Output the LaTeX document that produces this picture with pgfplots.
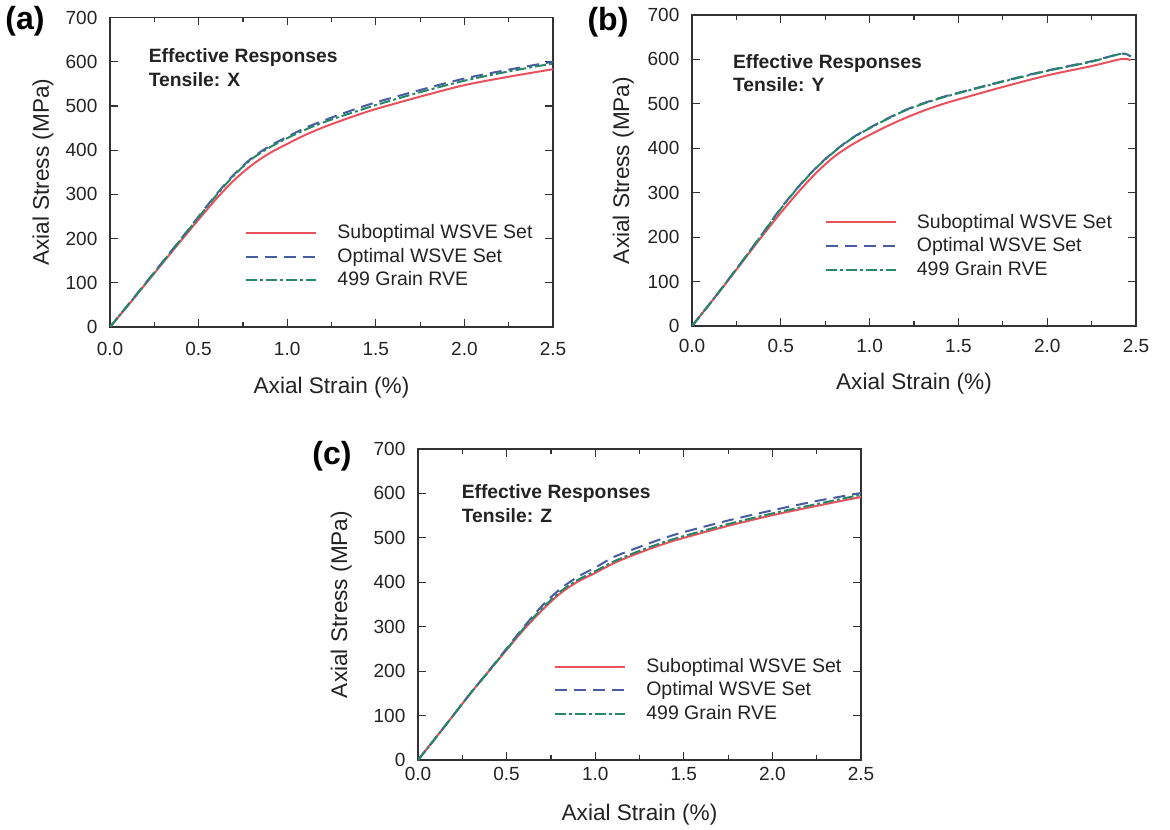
\documentclass[border=0pt]{standalone}
\usepackage{pgfplots}
\usepackage{pgfplotstable}
\pgfplotsset{compat=1.18}
\usepackage{fontspec}
\setmainfont{Liberation Sans}

\definecolor{subred}{RGB}{232,82,92}
\definecolor{optblue}{RGB}{72,92,160}
\definecolor{rvegreen}{RGB}{40,135,105}
\definecolor{axgray}{RGB}{50,50,50}
\definecolor{txt}{RGB}{35,35,35}

% Stress-strain responses: strain (%), stress (MPa)
\pgfplotstableread{
s    sub opt rve
0    0   0   0
0.1  48  49  49
0.2  97  99  98
0.3  146 149 148
0.4  195 199 198
0.5  243 250 248
0.6  290 300 298
0.7  332 345 343
0.8  366 382 380
0.9  393 409 406
1.0  414 430 427
1.1  434 450 446
1.2  451 466 462
1.3  466 481 476
1.4  480 495 489
1.5  493 508 502
1.75 521 536 531
2.0  547 562 557
2.25 566 582 578
2.5  583 600 596
}\tensileX

\pgfplotstableread{
s    sub opt rve
0    0   0   0
0.1  50  50  50
0.2  101 102 102
0.3  153 155 155
0.4  205 210 209
0.5  255 265 264
0.6  302 314 313
0.7  345 357 356
0.8  381 393 392
0.9  408 423 422
1.0  430 446 445
1.1  450 467 466
1.2  468 486 485
1.3  484 501 500
1.4  498 514 513
1.5  510 525 524
1.75 538 551 550
2.0  564 575 574
2.25 585 596 595
2.42 601 613 613
2.47 598 606 607
}\tensileY

\pgfplotstableread{
s    sub opt rve
0    0   0   0
0.1  50  50  50
0.2  101 101 101
0.3  152 152 152
0.4  200 201 200
0.5  248 251 249
0.6  295 301 298
0.7  337 347 341
0.8  374 384 378
0.9  401 412 405
1.0  421 433 425
1.1  442 456 446
1.2  459 472 463
1.3  474 487 478
1.4  488 501 492
1.5  500 513 504
1.75 527 539 531
2.0  551 562 555
2.25 572 583 576
2.5  592 601 597
}\tensileZ

\tikzset{
  note/.style={anchor=base west, font=\bfseries\fontsize{9.65}{11}\selectfont, text=txt},
  panelletter/.style={font=\bfseries\fontsize{16}{18}\selectfont, text=black},
}

\pgfplotsset{
  panel/.style={
    scale only axis,
    anchor=south west,
    xmin=0, xmax=2.5, ymin=0, ymax=700,
    xtick={0,0.5,1,1.5,2,2.5},
    minor xtick={0.25,0.75,1.25,1.75,2.25},
    ytick={0,100,200,300,400,500,600,700},
    tick align=inside,
    major tick length=4pt, minor tick length=2.5pt,
    axis line style={line width=0.65pt, axgray},
    every tick/.style={line width=0.6pt, axgray},
    /pgf/number format/assume math mode=true,
    xticklabel style={/pgf/number format/fixed, /pgf/number format/fixed zerofill, /pgf/number format/precision=1},
    tick label style={font=\fontsize{9.5}{10}\selectfont, text=txt},
    yticklabel style={xshift=-2.8pt},
    label style={font=\fontsize{11.3}{12}\selectfont, text=txt},
    xlabel={Axial Strain (\%)},
    ylabel={Axial Stress (MPa)},
    legend cell align=left,
    legend image code/.code={\draw[#1] (0pt,0pt) -- (35pt,0pt);},
    legend style={draw=none, fill=none, inner sep=0pt, anchor=west,
      row sep=2.2pt, column sep=9.5pt,
      font=\fontsize{9.75}{11}\selectfont, text=txt,
      nodes={inner sep=0.5pt}},
  },
  sub/.style={subred, line width=1pt, smooth},
  opt/.style={optblue, line width=1pt, smooth, dash pattern=on 6pt off 3.5pt},
  rve/.style={rvegreen, line width=1pt, smooth, dash pattern=on 5.5pt off 1.5pt on 1.5pt off 1.5pt},
}

\begin{document}
\begin{tikzpicture}
\useasboundingbox (0,0) rectangle (585pt,414.5pt);

% (a) loading along X
\begin{axis}[panel, at={(55pt,251pt)}, width=221.5pt, height=154.75pt,
  xticklabel style={yshift=-4pt},
  xlabel style={at={(rel axis cs:0.5,-0.195)}, anchor=center},
  ylabel style={at={(rel axis cs:-0.151,0.5)}, anchor=center},
  legend style={at={(axis cs:0.762,159)}}]
  \addplot[sub] table[x=s, y=sub] {\tensileX};
  \addplot[opt] table[x=s, y=opt] {\tensileX};
  \addplot[rve] table[x=s, y=rve] {\tensileX};
  \legend{Suboptimal WSVE Set, Optimal WSVE Set, 499 Grain RVE}
  \node[note] at (axis cs:0.179,599) {Effective Responses};
  \node[note] at (axis cs:0.179,543) {Tensile: X};
\end{axis}

% (b) loading along Y
\begin{axis}[panel, at={(346pt,251.5pt)}, width=222pt, height=155.5pt,
  xticklabel style={yshift=-3pt},
  xlabel style={at={(rel axis cs:0.5,-0.186)}, anchor=center},
  ylabel style={at={(rel axis cs:-0.155,0.5)}, anchor=center},
  legend style={at={(axis cs:0.746,180)}}]
  \addplot[sub] table[x=s, y=sub] {\tensileY};
  \addplot[opt] table[x=s, y=opt] {\tensileY};
  \addplot[rve] table[x=s, y=rve] {\tensileY};
  \legend{Suboptimal WSVE Set, Optimal WSVE Set, 499 Grain RVE}
  \node[note] at (axis cs:0.191,580) {Effective Responses};
  \node[note] at (axis cs:0.191,527) {Tensile: Y};
\end{axis}

% (c) loading along Z
\begin{axis}[panel, at={(209pt,34.5pt)}, width=221.5pt, height=155.5pt,
  xticklabel style={yshift=0pt},
  xlabel style={at={(rel axis cs:0.5,-0.177)}, anchor=center},
  ylabel style={at={(rel axis cs:-0.173,0.5)}, anchor=center},
  legend style={at={(axis cs:0.767,157.5)}}]
  \addplot[sub] table[x=s, y=sub] {\tensileZ};
  \addplot[opt] table[x=s, y=opt] {\tensileZ};
  \addplot[rve] table[x=s, y=rve] {\tensileZ};
  \legend{Suboptimal WSVE Set, Optimal WSVE Set, 499 Grain RVE}
  \node[note] at (axis cs:0.207,589) {Effective Responses};
  \node[note] at (axis cs:0.207,534) {Tensile: Z};
\end{axis}

% panel letters
\node[panelletter] at (12.5pt,404pt) {(a)};
\node[panelletter] at (304pt,403.25pt) {(b)};
\node[panelletter] at (166pt,186.15pt) {(c)};
\end{tikzpicture}
\end{document}
